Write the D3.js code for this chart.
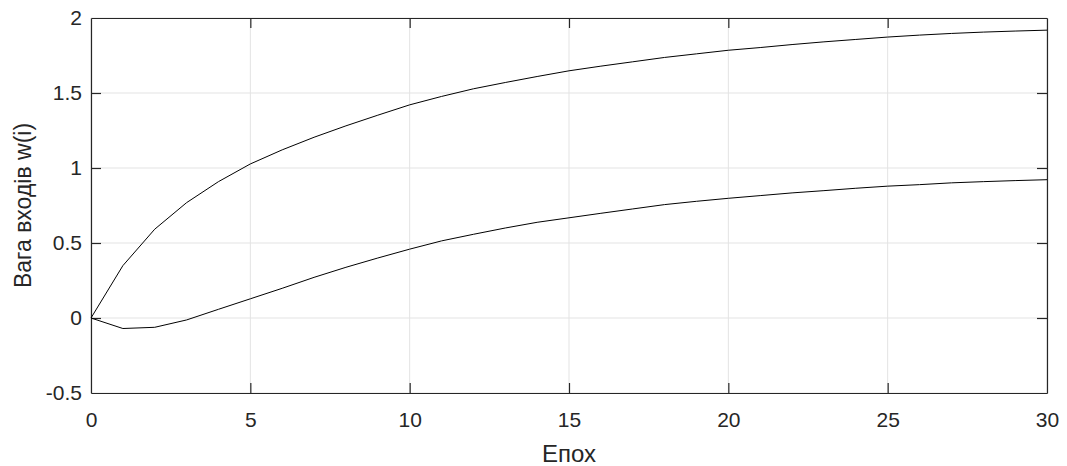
<!DOCTYPE html>
<html>
<head>
<meta charset="utf-8">
<script src="https://cdn.jsdelivr.net/npm/d3@7"></script>
<style>
body{margin:0;background:#fff;}
svg{display:block;}
text{font-family:"Liberation Sans",Arial,Helvetica,sans-serif;fill:#262626;}
</style>
</head>
<body>
<svg id="chart"></svg>
<script>
var width = 1067, height = 466;
var marge = {top:18, right:20, bottom:73, left:91};

// епохи
var epochs = d3.range(0, 31);
// верхня крива
var w1 = [0, 0.349, 0.592, 0.769, 0.909, 1.027, 1.121, 1.205, 1.281, 1.352, 1.421,
          1.477, 1.528, 1.570, 1.610, 1.648, 1.679, 1.708, 1.737, 1.761, 1.785,
          1.803, 1.823, 1.841, 1.857, 1.873, 1.886, 1.897, 1.906, 1.913, 1.919];
// нижня крива
var w2 = [0, -0.070, -0.062, -0.013, 0.058, 0.128, 0.198, 0.271, 0.338, 0.400, 0.459,
          0.514, 0.558, 0.600, 0.638, 0.668, 0.698, 0.727, 0.756, 0.778, 0.798,
          0.816, 0.834, 0.849, 0.865, 0.879, 0.889, 0.901, 0.909, 0.916, 0.922];

var xTicks = [0, 5, 10, 15, 20, 25, 30];
var yTicks = [-0.5, 0, 0.5, 1, 1.5, 2];

var svg = d3.select("#chart").attr("width", width).attr("height", height);
var iw = width - marge.left - marge.right, ih = height - marge.top - marge.bottom;
var g = svg.append("g").attr("transform", "translate(" + marge.left + "," + marge.top + ")");

var x = d3.scaleLinear().domain([0, 30]).range([0, iw]);
var y = d3.scaleLinear().domain([-0.5, 2]).range([ih, 0]);

// сітка
g.append("g").selectAll("line").data(xTicks).enter().append("line")
  .attr("x1", function(d){return x(d);}).attr("x2", function(d){return x(d);})
  .attr("y1", 0).attr("y2", ih)
  .attr("stroke", "#e3e3e3").attr("stroke-width", 1);
g.append("g").selectAll("line").data(yTicks).enter().append("line")
  .attr("y1", function(d){return y(d);}).attr("y2", function(d){return y(d);})
  .attr("x1", 0).attr("x2", iw)
  .attr("stroke", "#e3e3e3").attr("stroke-width", 1);

// осі
var fmt = function(d){ return String(d); };
var xAxis = g.append("g").attr("transform", "translate(0," + ih + ")")
  .call(d3.axisBottom(x).tickValues(xTicks).tickFormat(fmt).tickSizeInner(-10).tickSizeOuter(0).tickPadding(19));
var xTop = g.append("g")
  .call(d3.axisTop(x).tickValues(xTicks).tickFormat("").tickSizeInner(-10).tickSizeOuter(0));
var yAxis = g.append("g")
  .call(d3.axisLeft(y).tickValues(yTicks).tickFormat(fmt).tickSizeInner(-10).tickSizeOuter(0).tickPadding(9));
var yRight = g.append("g").attr("transform", "translate(" + iw + ",0)")
  .call(d3.axisRight(y).tickValues(yTicks).tickFormat("").tickSizeInner(-10).tickSizeOuter(0));

[xAxis, xTop, yAxis, yRight].forEach(function(a){
  a.select(".domain").attr("stroke", "#262626").attr("stroke-width", 1.2);
  a.selectAll(".tick line").attr("stroke", "#262626").attr("stroke-width", 1.2);
  a.selectAll("text").style("font-size", "21px").attr("fill", "#262626");
});
// прибрати крайні мітки на рамці
xAxis.selectAll(".tick line").filter(function(d){return d===0||d===30;}).remove();
xTop.selectAll(".tick line").filter(function(d){return d===0||d===30;}).remove();
yAxis.selectAll(".tick line").filter(function(d){return d===-0.5||d===2;}).remove();
yRight.selectAll(".tick line").filter(function(d){return d===-0.5||d===2;}).remove();

// криві
var line = d3.line().x(function(d,i){return x(epochs[i]);}).y(function(d){return y(d);});
[w1, w2].forEach(function(s){
  g.append("path").datum(s).attr("d", line)
    .attr("fill", "none").attr("stroke", "#000").attr("stroke-width", 1);
});

// підписи
svg.append("text").attr("x", marge.left + iw/2).attr("y", 461.5)
  .attr("text-anchor", "middle").style("font-size", "24px").text("Епох");
svg.append("text")
  .attr("transform", "translate(30.5," + (marge.top + ih/2) + ") rotate(-90)")
  .attr("text-anchor", "middle").style("font-size", "23px").text("Вага входів w(i)");
</script>
</body>
</html>
